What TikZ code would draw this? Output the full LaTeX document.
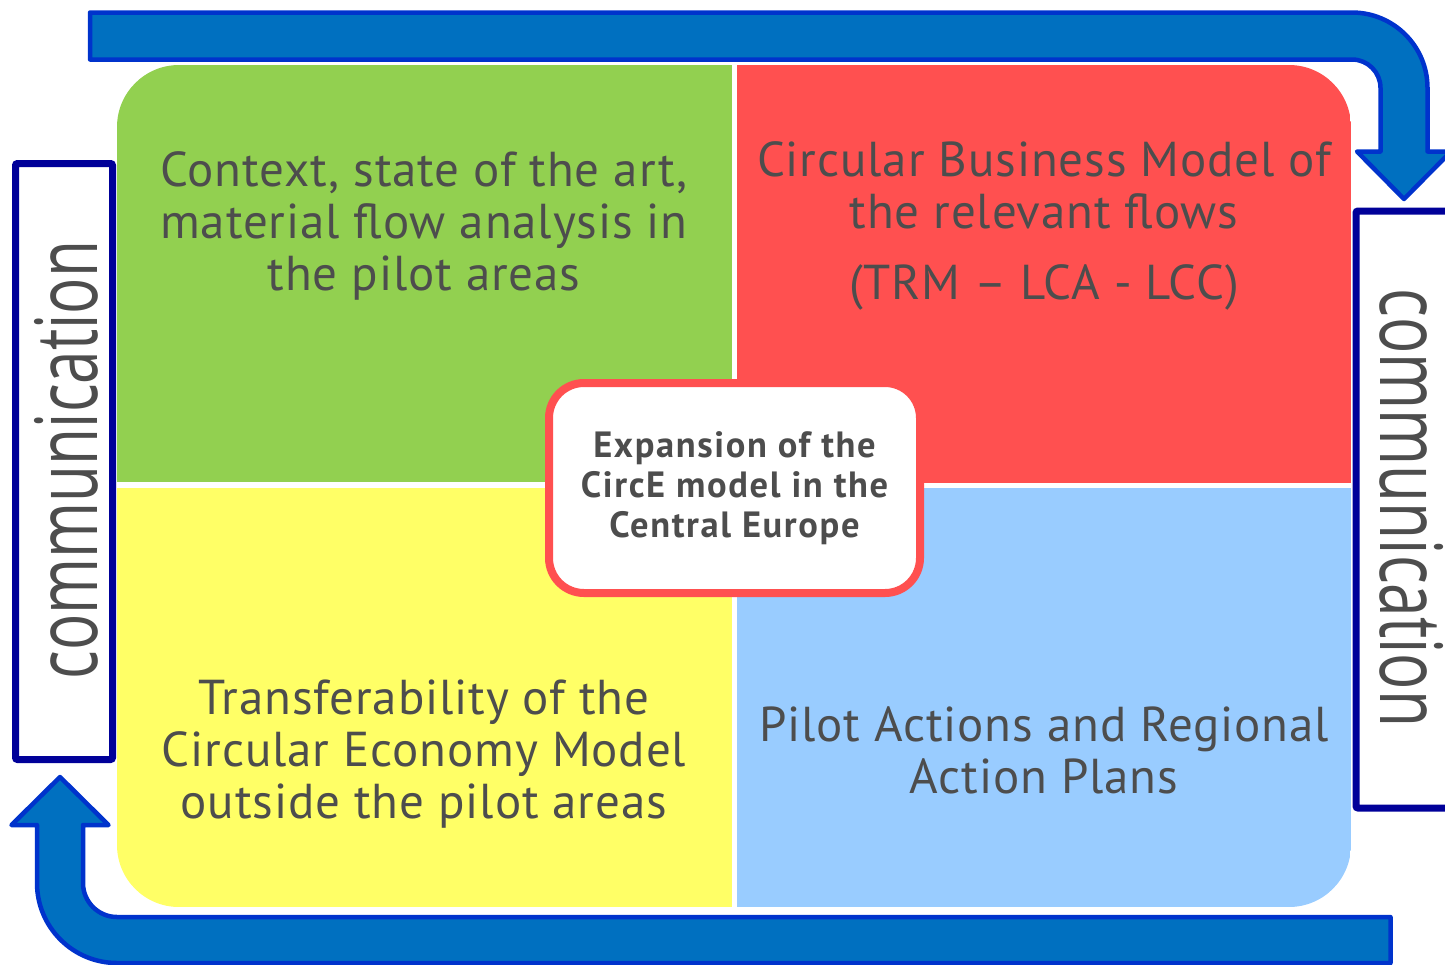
\documentclass[tikz,border=0pt]{standalone}
\usepackage{fontspec}
\setmainfont{PT Sans}
\newfontfamily\quadfont[LetterSpace=1.8]{PT Sans}
\newfontfamily\centerfont[LetterSpace=4.5]{PT Sans}
\newfontfamily\commfont{Open Sans}
\usepackage{graphicx}
\definecolor{qgreen}{HTML}{92D050}
\definecolor{qred}{HTML}{FF5050}
\definecolor{qyellow}{HTML}{FFFF66}
\definecolor{qblue}{HTML}{99CCFF}
\definecolor{arrowfill}{HTML}{0070C0}
\definecolor{arrowline}{HTML}{0033CC}
\definecolor{navy}{HTML}{000099}
\definecolor{txt}{HTML}{4D4D4D}
\begin{document}
\begin{tikzpicture}[x=1pt,y=-1pt,
  bigarrow/.style={fill=arrowfill,draw=arrowline,line width=4.5,line join=round},
  commbox/.style={draw=navy,line width=7,fill=white,inner sep=0,rounded corners=2},
  commtext/.style={text=txt,inner sep=0,font=\commfont\fontsize{86}{90}\selectfont},
  quadtext/.style={text=txt,align=center,inner sep=0,font=\quadfont\fontsize{49}{52}\selectfont},
  centerbox/.style={draw=qred,line width=8,fill=white,rounded corners=35,minimum width=371,minimum height=210,align=center,text=txt,font=\centerfont\bfseries\fontsize{36.5}{40}\selectfont}
]
\useasboundingbox (0,0) rectangle (1445,964);
% quadrants
\begin{scope}
\clip[rounded corners=62] (117,65) rectangle (1351,907);
\fill[qgreen] (117,65) rectangle (732,482);
\fill[qred] (737,65) rectangle (1351,483);
\fill[qyellow] (117,488) rectangle (732,907);
\fill[qblue] (737,488) rectangle (1351,907);
\end{scope}
% top arrow
\draw[bigarrow] (90,12.5) -- (1352,12.5) arc[start angle=-90,end angle=0,radius=75.5]
  -- (1427.5,151.5) -- (1451,151.5) -- (1404,199) -- (1357,151.5) -- (1380.5,151.5)
  -- (1380.5,88) arc[start angle=0,end angle=-90,radius=28.5] -- (90,59.5) -- cycle;
% bottom arrow
\draw[bigarrow] (1390.5,917) -- (117,917) arc[start angle=90,end angle=180,radius=34]
  -- (83,825) -- (108.5,825) -- (60,777) -- (11.5,825) -- (37,825)
  -- (37,883) arc[start angle=180,end angle=90,radius=80] -- (1390.5,963) -- cycle;
% communication boxes
\node[commbox,minimum width=97,minimum height=596] (lbox) at (64,461.5) {};
\node[commbox,minimum width=114,minimum height=597] (rbox) at (1413,509.5) {};
\node[commtext,rotate=90,anchor=base] (ltext) at (97,460) {\scalebox{0.7}[1]{communication}};
\node[commtext,rotate=-90,anchor=base] (rtext) at (1380,508) {\scalebox{0.7}[1]{communication}};
% quadrant texts
\node[quadtext] (tl) at (424,226) {Context, state of the art,\\material flow analysis in\\the pilot areas};
\node[quadtext] (tr) at (1044,226) {Circular Business Model of\\the relevant flows\\[19pt](TRM – LCA - LCC)};
\node[quadtext] (bl) at (424,754) {Transferability of the\\Circular Economy Model\\outside the pilot areas};
\node[quadtext] (br) at (1044,750) {Pilot Actions and Regional\\Action Plans};
% center
\node[centerbox] (center) at (734.5,488) {Expansion of the\\CircE model in the\\Central Europe};
\end{tikzpicture}
\end{document}
